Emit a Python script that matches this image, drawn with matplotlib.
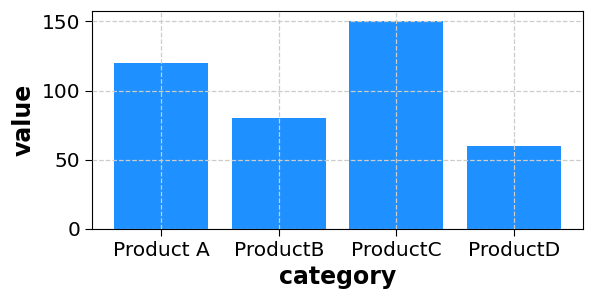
import matplotlib
matplotlib.use("Agg")
import matplotlib.pyplot as plt

categories = ["Product A", "ProductB", "ProductC", "ProductD"]
values = [120, 80, 150, 60]

fig, ax = plt.subplots(figsize=(5.94, 3.01), dpi=100)
ax.bar(categories, values, color="#1E90FF", width=0.8)
ax.set_axisbelow(False)
ax.grid(True, linestyle="--", color="#cccccc", linewidth=0.9)
ax.set_xlabel("category", fontsize=17, fontweight="bold")
ax.set_ylabel("value", fontsize=17, fontweight="bold")
ax.tick_params(labelsize=14.5, length=5)
fig.subplots_adjust(left=92 / 594, right=583 / 594, top=1 - 11 / 301, bottom=1 - 229 / 301)
fig.savefig("out.png", dpi=100)
